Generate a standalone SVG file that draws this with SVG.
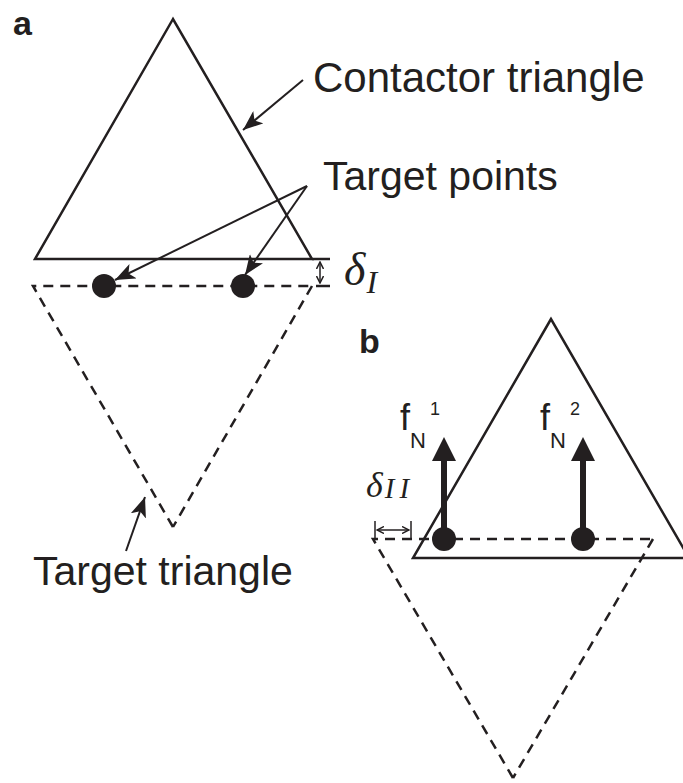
<svg xmlns="http://www.w3.org/2000/svg" width="683" height="783" viewBox="0 0 683 783">
<style>
.solid{fill:none;stroke:#231f20;stroke-width:2.5}
.dash{fill:none;stroke:#231f20;stroke-width:2.5;stroke-dasharray:10 7}
.thin{fill:none;stroke:#231f20;stroke-width:2}
.lbl{font-family:"Liberation Sans",Arial,sans-serif;fill:#231f20}
.bold{font-family:"Liberation Sans",Arial,sans-serif;font-weight:bold;fill:#231f20}
.math{font-family:"Liberation Serif","Times New Roman",serif;font-style:italic;fill:#231f20}
.dot{fill:#231f20}
</style>
<defs>
<marker id="ah" markerWidth="22" markerHeight="16" refX="20" refY="8" orient="auto" markerUnits="userSpaceOnUse">
<path d="M0,0 L20,8 L0,16 L5,8 Z" fill="#231f20"/>
</marker>
<marker id="sa" markerWidth="8" markerHeight="8" refX="7" refY="4" orient="auto" markerUnits="userSpaceOnUse">
<path d="M0,0.5 L7,4 L0,7.5" fill="none" stroke="#231f20" stroke-width="1.5"/>
</marker>
<marker id="sas" markerWidth="8" markerHeight="8" refX="1" refY="4" orient="auto" markerUnits="userSpaceOnUse">
<path d="M8,0.5 L1,4 L8,7.5" fill="none" stroke="#231f20" stroke-width="1.5"/>
</marker>
</defs>
<text class="bold" x="13" y="35" font-size="34">a</text>
<text class="bold" x="359" y="353" font-size="34">b</text>
<g id="contactor-a">
<polygon class="solid" points="173,19 35,259 312,259"/>
<line class="solid" x1="312" y1="259" x2="330" y2="259"/>
</g>
<g id="target-a">
<polyline class="dash" points="173,527 33,286 312,286"/>
<line class="dash" x1="312" y1="286" x2="173" y2="527"/>
<line class="solid" x1="316" y1="286" x2="330" y2="286"/>
</g>
<g id="points-a">
<circle class="dot" cx="104" cy="286" r="12"/>
<circle class="dot" cx="243" cy="286" r="12"/>
</g>
<g id="contactor-b">
<polygon class="solid" points="551,319 413,558 689,558"/>
</g>
<g id="target-b">
<polyline class="dash" points="513,778 373,539 653,539"/>
<line class="dash" x1="653" y1="539" x2="513" y2="778"/>
</g>
<g id="points-b">
<circle class="dot" cx="444" cy="539" r="12"/>
<circle class="dot" cx="583" cy="539" r="12"/>
</g>
<g id="connectors">
<line class="thin" x1="303" y1="80" x2="243" y2="130" marker-end="url(#ah)"/>
<line class="thin" x1="307" y1="186" x2="115" y2="280" marker-end="url(#ah)"/>
<line class="thin" x1="307" y1="186" x2="245" y2="275" marker-end="url(#ah)"/>
<line class="thin" x1="126" y1="551" x2="145" y2="497" marker-end="url(#ah)"/>
<line x1="320" y1="262" x2="320" y2="283" stroke="#231f20" stroke-width="1.5" marker-start="url(#sas)" marker-end="url(#sa)"/>
<line x1="377" y1="530" x2="409" y2="530" stroke="#231f20" stroke-width="1.5" marker-start="url(#sas)" marker-end="url(#sa)"/>
<line x1="375" y1="521" x2="375" y2="539" stroke="#231f20" stroke-width="1.5"/>
<line x1="411" y1="521" x2="411" y2="539" stroke="#231f20" stroke-width="1.5"/>
<line x1="444" y1="539" x2="444" y2="458" stroke="#231f20" stroke-width="6"/>
<polygon points="444,437 432,461 456,461" fill="#231f20"/>
<line x1="583" y1="539" x2="583" y2="458" stroke="#231f20" stroke-width="6"/>
<polygon points="583,437 571,461 595,461" fill="#231f20"/>
</g>
<g id="labels">
<text class="lbl" x="313" y="92" font-size="42">Contactor triangle</text>
<text class="lbl" x="323" y="190" font-size="41">Target points</text>
<text class="lbl" x="33" y="585" font-size="41">Target triangle</text>
<text class="math" x="344" y="285" font-size="46">δ<tspan font-size="32" dx="1" dy="8">I</tspan></text>
<text class="math" x="366" y="497" font-size="36">δ<tspan font-size="29" dx="2" dy="1">I</tspan><tspan font-size="29" dx="5">I</tspan></text>
<text class="lbl" x="400" y="430" font-size="36">f<tspan font-size="22" dy="18">N</tspan><tspan font-size="18" dx="4" dy="-33">1</tspan></text>
<text class="lbl" x="540" y="430" font-size="36">f<tspan font-size="22" dy="18">N</tspan><tspan font-size="18" dx="4" dy="-33">2</tspan></text>
</g>
</svg>
